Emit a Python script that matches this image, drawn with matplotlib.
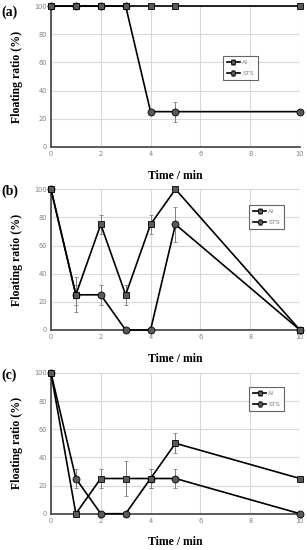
import matplotlib
matplotlib.use("Agg")
import matplotlib.pyplot as plt

time = [0, 1, 2, 3, 4, 5, 10]

al_a = [100, 100, 100, 100, 100, 100, 100]
al_a_err = [0, 0, 0, 0, 0, 0, 0]
sts_a = [100, 100, 100, 100, 25, 25, 25]
sts_a_err = [0, 0, 0, 0, 0, 7, 0]

al_b = [100, 25, 75, 25, 75, 100, 0]
al_b_err = [0, 12.5, 7, 7, 7, 0, 0]
sts_b = [100, 25, 25, 0, 0, 75, 0]
sts_b_err = [0, 7, 7, 0, 0, 12.5, 0]

al_c = [100, 0, 25, 25, 25, 50, 25]
al_c_err = [0, 0, 7, 12.5, 7, 7, 0]
sts_c = [100, 25, 0, 0, 25, 25, 0]
sts_c_err = [0, 7, 0, 0, 7, 7, 0]

panel_labels = ["(a)", "(b)", "(c)"]
xticks = [0, 2, 4, 6, 8, 10]
yticks = [0, 20, 40, 60, 80, 100]

fig = plt.figure(figsize=(3.07, 5.5), dpi=100)

axes_pos = [
    [0.166, 0.733, 0.811, 0.256],
    [0.166, 0.400, 0.811, 0.256],
    [0.166, 0.066, 0.811, 0.256],
]
legend_anchor = [(0.69, 0.645), (0.795, 0.89), (0.795, 0.90)]
panel_y = [0.978, 0.652, 0.318]

data = [
    (al_a, al_a_err, sts_a, sts_a_err),
    (al_b, al_b_err, sts_b, sts_b_err),
    (al_c, al_c_err, sts_c, sts_c_err),
]

serif_bold = dict(family="Liberation Serif", weight="bold")

for i, (al, al_err, sts, sts_err) in enumerate(data):
    ax = fig.add_axes(axes_pos[i])
    ax.set_xlim(0, 10)
    ax.set_ylim(0, 100)
    ax.set_xticks(xticks)
    ax.set_yticks(yticks)
    ax.grid(True, color="#d9d9d9", linewidth=0.8)
    ax.set_axisbelow(True)
    for s in ["top", "right"]:
        ax.spines[s].set_visible(False)
    for s in ["left", "bottom"]:
        ax.spines[s].set_color("#404040")
        ax.spines[s].set_linewidth(1.2)
    ax.tick_params(axis="both", length=0, labelsize=4.8, colors="#808080", pad=3)

    ax.errorbar(time, sts, yerr=sts_err, color="black", ecolor="#7f7f7f",
                elinewidth=0.7, capsize=1.5, capthick=0.7, linewidth=1.2,
                marker="o", markersize=5, markerfacecolor="#595959",
                markeredgecolor="black", markeredgewidth=0.6, label="STS",
                clip_on=False, zorder=3)
    ax.errorbar(time, al, yerr=al_err, color="black", ecolor="#7f7f7f",
                elinewidth=0.7, capsize=1.5, capthick=0.7, linewidth=1.2,
                marker="s", markersize=5, markerfacecolor="#595959",
                markeredgecolor="black", markeredgewidth=0.6, label="Al",
                clip_on=False, zorder=4)

    handles, labels = ax.get_legend_handles_labels()
    order = [labels.index("Al"), labels.index("STS")]
    leg = ax.legend([handles[j] for j in order], [labels[j] for j in order],
                    loc="upper left", bbox_to_anchor=legend_anchor[i],
                    fontsize=4.5, frameon=True, fancybox=False,
                    handlelength=2.2, handletextpad=0.3, borderpad=0.6,
                    labelspacing=0.9, markerscale=0.7, borderaxespad=0)
    leg.get_frame().set_edgecolor("#404040")
    leg.get_frame().set_linewidth(0.8)
    for t in leg.get_texts():
        t.set_color("#808080")

    ax.set_xlabel("Time / min", fontsize=8.5, labelpad=9, **serif_bold)
    ax.set_ylabel("Floating ratio (%)", fontsize=8.5, labelpad=8, **serif_bold)
    fig.text(0.005, panel_y[i], panel_labels[i], fontsize=10, va="center",
             ha="left", **serif_bold)

fig.savefig("out.png", dpi=100)
